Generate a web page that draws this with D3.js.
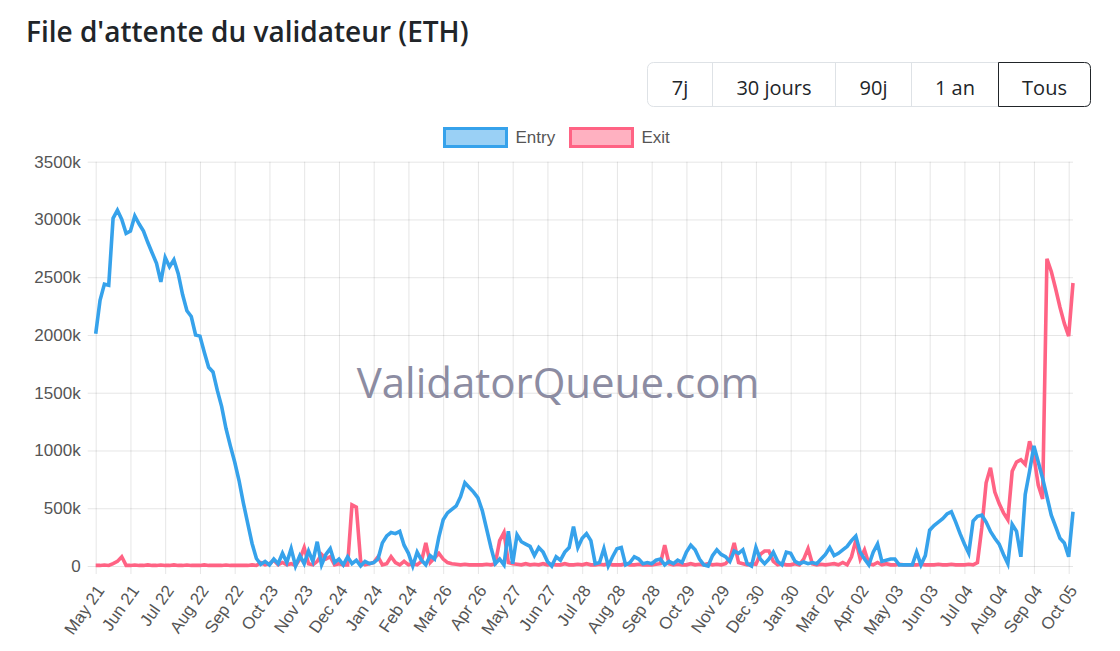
<!DOCTYPE html>
<html>
<head>
<meta charset="utf-8">
<script src="https://cdn.jsdelivr.net/npm/d3@7"></script>
<style>
  body { margin: 0; background: #fff; }
  svg { display: block; }
</style>
</head>
<body>
<svg id="chart" width="1120" height="651"></svg>
<script>
// x labels (one every 8 samples)
const monthLabels = ["May 21", "Jun 21", "Jul 22", "Aug 22", "Sep 22", "Oct 23", "Nov 23",
  "Dec 24", "Jan 24", "Feb 24", "Mar 26", "Apr 26", "May 27", "Jun 27", "Jul 28", "Aug 28",
  "Sep 28", "Oct 29", "Nov 29", "Dec 30", "Jan 30", "Mar 02", "Apr 02", "May 03", "Jun 03",
  "Jul 04", "Aug 04", "Sep 04", "Oct 05"];

// queue sizes in thousands of ETH, one row per label interval
const entryQueue = [
  2010, 2300, 2440, 2430, 3010, 3080, 3000, 2880,
  2900, 3030, 2960, 2900, 2800, 2710, 2620, 2460,
  2670, 2590, 2650, 2530, 2350, 2210, 2160, 2000,
  1990, 1850, 1720, 1680, 1520, 1380, 1190, 1040,
  900, 740, 545, 370, 195, 65, 15, 40,
  10, 60, 20, 110, 30, 150, 0, 90,
  20, 130, 40, 210, 10, 100, 150, 30,
  60, 10, 80, 20, 50, 0, 40, 20,
  30, 60, 200, 260, 290, 280, 300, 180,
  110, 0, 120, 50, 10, 90, 60, 250,
  400, 460, 490, 520, 600, 720, 680, 640,
  590, 480, 320, 160, 20, 60, 10, 300,
  20, 270, 210, 190, 170, 90, 160, 120,
  40, 0, 80, 50, 120, 160, 340, 160,
  240, 280, 220, 20, 30, 150, 0, 80,
  150, 160, 10, 30, 80, 60, 20, 30,
  20, 50, 60, 10, 40, 20, 50, 30,
  120, 180, 140, 60, 10, 0, 90, 140,
  100, 80, 40, 130, 110, 140, 20, 0,
  160, 60, 20, 60, 120, 40, 10, 120,
  110, 40, 20, 35, 20, 30, 20, 60,
  100, 160, 90, 110, 140, 170, 220, 260,
  120, 60, 10, 120, 190, 40, 50, 60,
  60, 10, 10, 10, 10, 120, 10, 90,
  310, 350, 380, 410, 450, 470, 380, 280,
  190, 110, 390, 430, 440, 380, 300, 240,
  190, 100, 20, 360, 300, 80, 620, 820,
  1040, 900, 760, 600, 440, 340, 240, 200,
  80, 470
];

const exitQueue = [
  5, 5, 8, 5, 20, 40, 80, 5,
  5, 8, 5, 5, 10, 5, 5, 8,
  5, 5, 10, 5, 5, 8, 5, 5,
  5, 10, 5, 5, 5, 5, 8, 5,
  5, 5, 5, 5, 10, 5, 30, 10,
  20, 50, 10, 30, 10, 20, 5, 60,
  160, 20, 10, 40, 100, 60, 80, 10,
  20, 10, 10, 530, 510, 40, 10, 20,
  30, 80, 10, 20, 80, 30, 10, 40,
  10, 20, 10, 40, 200, 30, 70, 110,
  60, 30, 20, 15, 10, 15, 10, 10,
  10, 10, 15, 10, 20, 220, 290, 30,
  20, 15, 10, 20, 10, 15, 10, 20,
  10, 15, 10, 10, 20, 10, 10, 15,
  10, 20, 10, 10, 15, 10, 20, 10,
  10, 10, 20, 10, 10, 15, 10, 10,
  10, 15, 20, 180, 20, 10, 15, 10,
  10, 20, 10, 15, 10, 20, 10, 15,
  10, 20, 60, 200, 30, 20, 10, 20,
  15, 100, 130, 130, 40, 10, 20, 10,
  10, 20, 10, 60, 150, 20, 10, 15,
  10, 15, 20, 10, 30, 10, 80, 220,
  60, 140, 20, 10, 30, 10, 20, 10,
  10, 15, 10, 10, 10, 10, 15, 10,
  10, 10, 15, 10, 10, 15, 10, 10,
  10, 15, 10, 30, 330, 720, 850, 640,
  540, 460, 400, 820, 900, 920, 880, 1080,
  950, 700, 580, 2660, 2550, 2400, 2240, 2100,
  1990, 2450
];

const yTicks = [0, 500, 1000, 1500, 2000, 2500, 3000, 3500];
const seriesNames = ["Entry", "Exit"];
const rangeButtons = ["7j", "30 jours", "90j", "1 an", "Tous"];

const labelStep = 8;
const blue = "#36a2eb";
const pink = "#ff6384";
const textGrey = "#555";
const tickFont = "'Liberation Sans', Arial, sans-serif";
const uiFont = "'Open Sans', 'Noto Sans', sans-serif";

const svg = d3.select("#chart");

/* TITLE */
svg.append("text")
  .attr("x", 26)
  .attr("y", 42)
  .attr("font-family", uiFont)
  .attr("font-weight", 600)
  .attr("font-size", 28)
  .attr("fill", "#212529")
  .text("File d'attente du validateur (ETH)");

/* RANGE BUTTONS */
const btnEdges = [647.5, 712.5, 835.5, 911.5, 998.5, 1090.5];
const btnTop = 62.5, btnH = 44;
const btnGroup = svg.append("g").attr("id", "buttons");

btnGroup.append("rect")
  .attr("x", btnEdges[0]).attr("y", btnTop)
  .attr("width", btnEdges[5] - btnEdges[0]).attr("height", btnH)
  .attr("rx", 6)
  .attr("fill", "#fff").attr("stroke", "#dee2e6");

btnGroup.selectAll("line.sep")
  .data(btnEdges.slice(1, 4))
  .enter().append("line")
  .attr("class", "sep")
  .attr("x1", d => d).attr("x2", d => d)
  .attr("y1", btnTop).attr("y2", btnTop + btnH)
  .attr("stroke", "#dee2e6");

// active button, rounded only on the right
const ax0 = btnEdges[4], ax1 = btnEdges[5], r = 6;
btnGroup.append("path")
  .attr("d", `M${ax0},${btnTop} H${ax1 - r} Q${ax1},${btnTop} ${ax1},${btnTop + r}` +
    ` V${btnTop + btnH - r} Q${ax1},${btnTop + btnH} ${ax1 - r},${btnTop + btnH} H${ax0} Z`)
  .attr("fill", "#fff").attr("stroke", "#212529");

btnGroup.selectAll("text")
  .data(rangeButtons)
  .enter().append("text")
  .attr("x", (d, i) => (btnEdges[i] + btnEdges[i + 1]) / 2)
  .attr("y", 95)
  .attr("text-anchor", "middle")
  .attr("font-family", uiFont)
  .attr("font-size", 20)
  .attr("fill", "#212529")
  .text(d => d);

/* SCALES */
const plotLeft = 95.7, plotRight = 1073, plotTop = 161.7, plotBottom = 566;

const x = d3.scaleLinear()
  .domain([0, entryQueue.length - 1])
  .range([plotLeft, plotRight]);

const y = d3.scaleLinear()
  .domain([0, 3500])
  .range([plotBottom, plotTop]);

/* AXES + GRID */
const xAxis = d3.axisBottom(x)
  .tickValues(monthLabels.map((d, i) => i * labelStep))
  .tickFormat((d, i) => monthLabels[i])
  .tickSizeOuter(0);

const xGroup = svg.append("g")
  .attr("id", "x-axis")
  .attr("transform", "translate(0," + plotBottom + ")")
  .call(xAxis);

xGroup.select(".domain").remove();
xGroup.selectAll(".tick line")
  .attr("y1", plotTop - plotBottom).attr("y2", 8)
  .attr("stroke", "rgba(0,0,0,0.1)");
xGroup.selectAll(".tick text")
  .attr("y", 0).attr("dy", "0.35em")
  .attr("transform", "translate(4,21) rotate(-55)")
  .attr("text-anchor", "end")
  .attr("font-family", tickFont)
  .attr("font-size", 17)
  .attr("fill", textGrey);

const yAxis = d3.axisLeft(y)
  .tickValues(yTicks)
  .tickFormat(d => d === 0 ? "0" : d + "k")
  .tickSizeOuter(0);

const yGroup = svg.append("g")
  .attr("id", "y-axis")
  .attr("transform", "translate(" + plotLeft + ",0)")
  .call(yAxis);

yGroup.select(".domain").remove();
yGroup.selectAll(".tick line")
  .attr("x1", -8).attr("x2", plotRight - plotLeft)
  .attr("stroke", "rgba(0,0,0,0.1)");
yGroup.selectAll(".tick text")
  .attr("x", -15)
  .attr("font-family", tickFont)
  .attr("font-size", 17)
  .attr("fill", textGrey);

/* WATERMARK */
svg.append("text")
  .attr("x", 558)
  .attr("y", 383)
  .attr("dy", "0.35em")
  .attr("text-anchor", "middle")
  .attr("font-family", uiFont)
  .attr("font-size", 42)
  .attr("fill", "#8c8ca2")
  .text("ValidatorQueue.com");

/* LINES */
const line = d3.line()
  .x((d, i) => x(i))
  .y(d => y(d));

const plot = svg.append("g").attr("id", "plot");

plot.append("path")
  .datum(exitQueue)
  .attr("d", line)
  .attr("fill", "none")
  .attr("stroke", pink)
  .attr("stroke-width", 3.6)
  .attr("stroke-linejoin", "miter")
  .attr("stroke-miterlimit", 4);

plot.append("path")
  .datum(entryQueue)
  .attr("d", line)
  .attr("fill", "none")
  .attr("stroke", blue)
  .attr("stroke-width", 3.6)
  .attr("stroke-linejoin", "miter")
  .attr("stroke-miterlimit", 4);

/* LEGEND */
const legendX = [444.5, 570.5];
const legendColors = [blue, pink];
const legendFill = ["rgba(54,162,235,0.5)", "rgba(255,99,132,0.5)"];

const legend = svg.append("g").attr("id", "legend");
legend.selectAll("rect")
  .data(seriesNames)
  .enter().append("rect")
  .attr("x", (d, i) => legendX[i])
  .attr("y", 128.5)
  .attr("width", 62)
  .attr("height", 18)
  .attr("fill", (d, i) => legendFill[i])
  .attr("stroke", (d, i) => legendColors[i])
  .attr("stroke-width", 3);

legend.selectAll("text")
  .data(seriesNames)
  .enter().append("text")
  .attr("x", (d, i) => legendX[i] + 71)
  .attr("y", 137.5)
  .attr("dy", "0.35em")
  .attr("font-family", tickFont)
  .attr("font-size", 17)
  .attr("fill", textGrey)
  .text(d => d);
</script>
</body>
</html>
